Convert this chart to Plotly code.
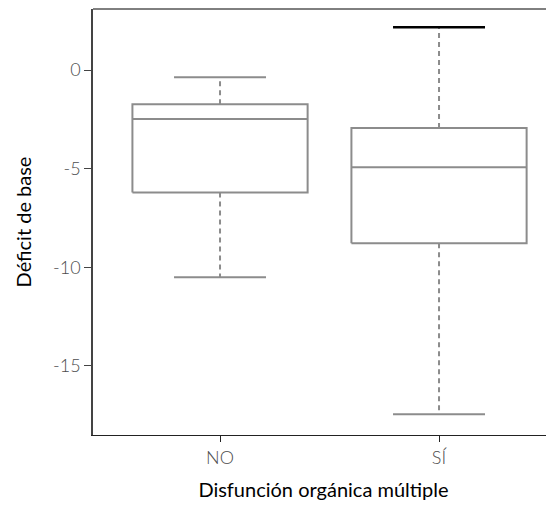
import plotly.graph_objects as go

# Summary statistics
categories = ["NO", "SÍ"]
lower_whisker = [-10.5, -17.45]
q1 = [-6.2, -8.78]
median = [-2.48, -4.92]
q3 = [-1.73, -2.94]
upper_whisker = [-0.36, 2.18]

y_ticks = [0, -5, -10, -15]
y_tick_labels = ["0", "-5", "-10", "-15"]

box_color = "#8c8c8c"
half_box = 0.4
half_cap = 0.21

fig = go.Figure()

for i, cat in enumerate(categories):
    # box rectangle
    fig.add_trace(go.Scatter(
        x=[i - half_box, i + half_box, i + half_box, i - half_box, i - half_box],
        y=[q1[i], q1[i], q3[i], q3[i], q1[i]],
        mode="lines", line=dict(color=box_color, width=2),
        showlegend=False, hoverinfo="skip"
    ))
    # median
    fig.add_trace(go.Scatter(
        x=[i - half_box, i + half_box], y=[median[i], median[i]],
        mode="lines", line=dict(color=box_color, width=2),
        showlegend=False, hoverinfo="skip"
    ))
    # dashed whiskers
    fig.add_trace(go.Scatter(
        x=[i, i, None, i, i],
        y=[q3[i], upper_whisker[i], None, q1[i], lower_whisker[i]],
        mode="lines", line=dict(color=box_color, width=2, dash="5px,4px"),
        showlegend=False, hoverinfo="skip"
    ))
    # caps
    fig.add_trace(go.Scatter(
        x=[i - half_cap, i + half_cap], y=[lower_whisker[i], lower_whisker[i]],
        mode="lines", line=dict(color=box_color, width=2),
        showlegend=False, hoverinfo="skip"
    ))
    top_color = "black" if i == 1 else box_color
    fig.add_trace(go.Scatter(
        x=[i - half_cap, i + half_cap], y=[upper_whisker[i], upper_whisker[i]],
        mode="lines", line=dict(color=top_color, width=2.5 if i == 1 else 2),
        showlegend=False, hoverinfo="skip"
    ))

# top border of the frame (no right border in the original)
fig.add_shape(type="line", xref="paper", yref="paper", x0=0, x1=1, y0=1, y1=1,
              line=dict(color="black", width=1))

# page body has an 8px margin, so the figure is a bit smaller than the window
fig.update_layout(
    width=546, height=497,
    margin=dict(l=85, r=0, t=1, b=70),
    plot_bgcolor="white", paper_bgcolor="white",
    font=dict(family="Lato", color="#4d4d4d", size=18, weight=300),
    xaxis=dict(
        range=[-0.58, 1.525], tickvals=list(range(len(categories))), ticktext=categories,
        showline=True, linecolor="#222222", linewidth=1, showgrid=False, zeroline=False,
        ticks="outside", ticklen=6, tickcolor="#222222",
        title=dict(text="Disfunción orgánica múltiple",
                   font=dict(size=20, color="black", weight=400), standoff=16)
    ),
    yaxis=dict(
        range=[-18.5, 3.1], tickvals=y_ticks, ticktext=y_tick_labels,
        showline=True, linecolor="#444444", linewidth=1.5, showgrid=False, zeroline=False,
        ticks="outside", ticklen=7, tickcolor="#444444",
        title=dict(text="Déficit de base",
                   font=dict(size=20, color="black", weight=400), standoff=16)
    ),
)

fig.write_html("out.html")
